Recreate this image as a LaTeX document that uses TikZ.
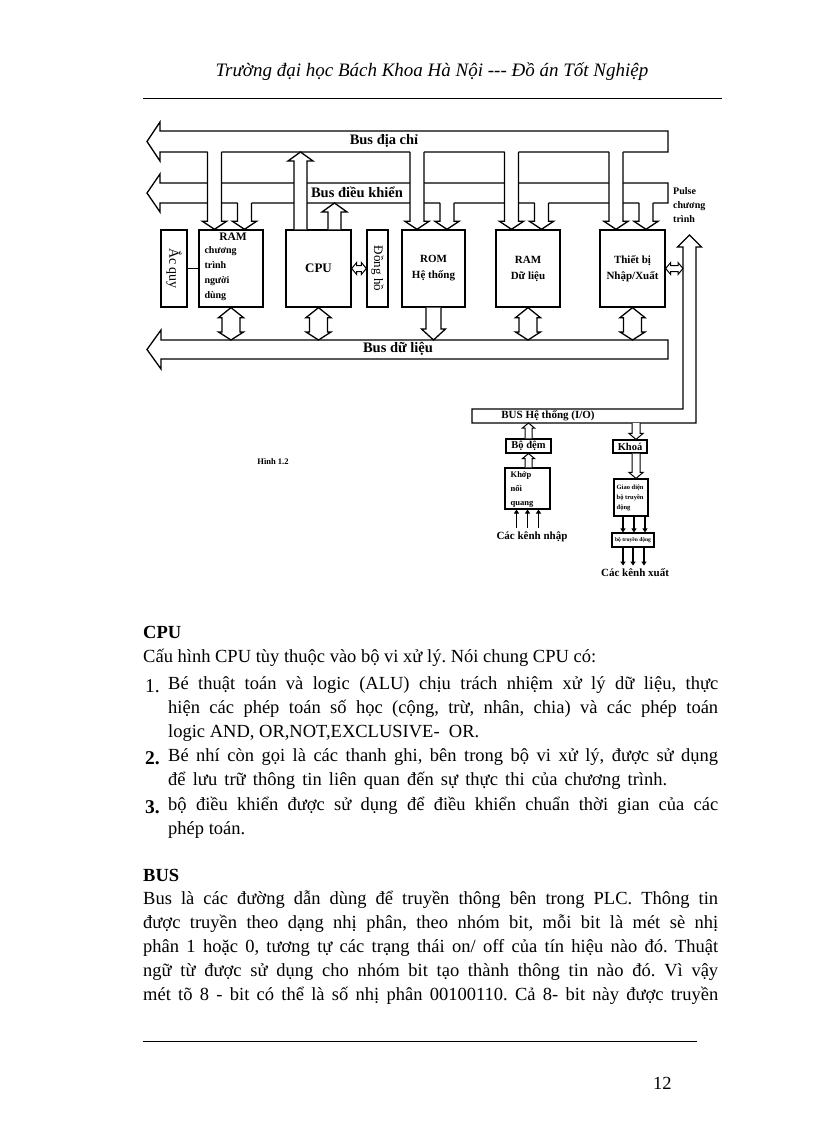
\documentclass[tikz,border=0pt]{standalone}
\usepackage{fontspec}
\setmainfont{Liberation Serif}
\usetikzlibrary{calc,arrows.meta}

\newcommand{\fsz}[2]{\fontsize{#1}{#2}\selectfont}
% hollow arrow leaving a bus downwards into a module (#1 tip, #2 bus edge)
\newcommand{\busdrop}[2]{%
  \fill[white] ($(#1 |- #2)+(-7,-1)$) -- ($(#1)+(-7,-8)$) -- ($(#1)+(-12,-8)$) -- (#1) -- ($(#1)+(12,-8)$) -- ($(#1)+(7,-8)$) -- ($(#1 |- #2)+(7,-1)$) -- cycle;
  \draw[busline] ($(#1 |- #2)+(-7,0)$) -- ($(#1)+(-7,-8)$) -- ($(#1)+(-12,-8)$) -- (#1) -- ($(#1)+(12,-8)$) -- ($(#1)+(7,-8)$) -- ($(#1 |- #2)+(7,0)$);%
}
% hollow arrow from a module up to a bus (#1 foot, #2 bus edge)
\newcommand{\busup}[2]{%
  \fill[white] ($(#1)+(-6.5,0)$) -- ($(#1 |- #2)+(-6.5,9)$) -- ($(#1 |- #2)+(-12.5,9)$) -- (#1 |- #2) -- ($(#1 |- #2)+(12.5,9)$) -- ($(#1 |- #2)+(6.5,9)$) -- ($(#1)+(6.5,0)$) -- cycle;
  \draw[busline] ($(#1)+(-6.5,0)$) -- ($(#1 |- #2)+(-6.5,9)$) -- ($(#1 |- #2)+(-12.5,9)$) -- (#1 |- #2) -- ($(#1 |- #2)+(12.5,9)$) -- ($(#1 |- #2)+(6.5,9)$) -- ($(#1)+(6.5,0)$);%
}
% hollow double arrow, vertical
\newcommand{\vdbl}[2]{%
  \draw[busline,fill=white] (#1) -- ($(#1)+(12.5,10)$) -- ($(#1)+(9,10)$) -- ($(#2)+(9,-8)$) -- ($(#2)+(12.5,-8)$) -- (#2) -- ($(#2)+(-12.5,-8)$) -- ($(#2)+(-9,-8)$) -- ($(#1)+(-9,10)$) -- ($(#1)+(-12.5,10)$) -- cycle;%
}
% hollow single arrow, downwards
\newcommand{\busdown}[2]{%
  \draw[busline,fill=white] ($(#1)+(-7.5,0)$) -- ($(#2)+(-7.5,-11)$) -- ($(#2)+(-12,-11)$) -- (#2) -- ($(#2)+(12,-11)$) -- ($(#2)+(7.5,-11)$) -- ($(#1)+(7.5,0)$);%
}
% hollow double arrow, horizontal
\newcommand{\hdbl}[2]{%
  \draw[thinbus,fill=white] (#1) -- ($(#1)+(5,-6)$) -- ($(#1)+(5,-3)$) -- ($(#2)+(-5,-3)$) -- ($(#2)+(-5,-6)$) -- (#2) -- ($(#2)+(-5,6)$) -- ($(#2)+(-5,3)$) -- ($(#1)+(5,3)$) -- ($(#1)+(5,6)$) -- cycle;%
}
% small hollow arrows of the I/O part
\newcommand{\smallup}[2]{%
  \draw[thinbus,fill=white] ($(#1)+(-3.5,0)$) -- ($(#2)+(-3.5,5)$) -- ($(#2)+(-6,5)$) -- (#2) -- ($(#2)+(6,5)$) -- ($(#2)+(3.5,5)$) -- ($(#1)+(3.5,0)$);%
}
\newcommand{\smalldown}[2]{%
  \draw[thinbus,fill=white] ($(#1)+(-4,0)$) -- ($(#2)+(-4,-6)$) -- ($(#2)+(-7,-6)$) -- (#2) -- ($(#2)+(7,-6)$) -- ($(#2)+(4,-6)$) -- ($(#1)+(4,0)$);%
}

\begin{document}
\begin{tikzpicture}[x=1pt,y=-1pt,
    busline/.style={line width=1.3pt,line join=miter},
    thinbus/.style={line width=1pt,line join=miter},
    modbox/.style={draw,line width=1.3pt,minimum height=77pt,inner sep=0pt},
    iobox/.style={draw,line width=1.1pt,inner sep=0pt},
    lbl/.style={inner sep=0pt,font=\bfseries\fsz{11}{13}},
    buslbl/.style={inner sep=0pt,font=\bfseries\fsz{14.5}{15}},
    chan/.style={line width=1.7pt,-{Triangle[length=4pt,width=5pt]}},
    body/.style={anchor=base west,inner sep=0pt,font=\frenchspacing\fsz{18.5}{21}},
    bodyb/.style={body,font=\bfseries\fsz{18.5}{21}},
]
% page
\fill[white] (0,0) rectangle (816,1123);
\useasboundingbox (0,0) rectangle (816,1123);

% header
\node[anchor=base,inner sep=0pt,font=\itshape\fsz{19}{19}] (head) at (432,77) {Trường đại học Bách Khoa Hà Nội -{}-{}- Đồ án Tốt Nghiệp};
\draw[line width=0.8pt] (143,98) -- (722,98);

% buses
\draw[busline,fill=white] (668,131) -- (160,131) -- (160,122) -- (147,141.5) -- (160,161) -- (160,152) -- (668,152) -- cycle;
\draw[busline,fill=white] (668,183) -- (160,183) -- (160,174) -- (147,193) -- (160,212) -- (160,203) -- (668,203) -- cycle;
\draw[busline,fill=white] (668,340) -- (161,340) -- (161,330) -- (147,349.5) -- (161,369) -- (161,359) -- (668,359) -- cycle;
\coordinate (abus) at (0,152);
\coordinate (cbus) at (0,203);
\coordinate (dbus) at (0,340);

% modules
\node[modbox,minimum width=26pt] (acquy) at (174,268.5) {};
\node[modbox,minimum width=64pt] (ramu) at (231,268.5) {};
\node[modbox,minimum width=65pt,font=\bfseries\fsz{13}{13}] (cpu) at (318.5,268.5) {CPU};
\node[modbox,minimum width=21pt] (dongho) at (377.5,268.5) {};
\node[modbox,minimum width=63pt,align=center,font=\bfseries\fsz{11}{16}] (rom) at (433.5,268.5) {ROM\\Hệ thống};
\node[modbox,minimum width=64pt,align=center,font=\bfseries\fsz{11}{16}] (ramd) at (528,268.5) {RAM\\Dữ liệu};
\node[modbox,minimum width=65pt,align=center,font=\bfseries\fsz{11}{16}] (io) at (632.5,268.5) {Thiết bị\\Nhập/Xuất};
\node[rotate=-90,inner sep=0pt,font=\fsz{14}{14}] (acquyt) at (acquy) {Ắc quy};
\node[rotate=-90,inner sep=0pt,font=\fsz{13}{13}] (donghot) at (dongho) {Đồng hồ};
\node[anchor=north,inner sep=0pt,font=\bfseries\fsz{11.5}{12}] (ramut) at ($(ramu.north)+(2,3)$) {RAM};
\node[anchor=north west,inner sep=0pt,align=left,font=\bfseries\fsz{10}{15}] (ramus) at ($(ramu.north west)+(6,17)$) {chương\\trình\\người\\dùng};

% links to the address and control buses
\foreach \n in {ramu,rom,ramd,io}{
  \coordinate (\n-a) at ($(\n.north)+(-16.5,0)$);
  \coordinate (\n-c) at ($(\n.north)+(13.5,0)$);
  \busdrop{\n-c}{cbus}
  \busdrop{\n-a}{abus}
}
\coordinate (cpu-a) at ($(cpu.north)+(-18,0)$);
\coordinate (cpu-c) at ($(cpu.north)+(16,0)$);
\busup{cpu-a}{abus}
\busup{cpu-c}{cbus}

% links to the data bus
\foreach \n in {ramu,cpu,ramd,io}{
  \vdbl{\n.south}{\n.south |- dbus}
}
\busdown{rom.south}{rom.south |- dbus}

% side links
\draw[busline] (acquy) -- (ramu);
\hdbl{cpu.east}{dongho.west}

% I/O bus
\draw[busline,fill=white] (472,409) -- (683,409) -- (683,247) -- (677.5,247) -- (689.5,235) -- (701.5,247) -- (696,247) -- (696,423) -- (472,423) -- cycle;
\coordinate (iob) at (0,423);
\coordinate (iov) at (683,268.5);
\hdbl{io.east}{iov}

% bus labels
\node[buslbl] (abl) at (384,141) {Bus địa chỉ};
\node[buslbl] (cbl) at (357,192.5) {Bus điều khiển};
\node[buslbl] (dbl) at (398,349) {Bus dữ liệu};
\node[anchor=north west,inner sep=0pt,align=left,font=\bfseries\fsz{10}{14}] (pulse) at (673,187) {Pulse\\chương\\trình};
\node[lbl] (bust) at (548,416) {BUS Hệ thống (I/O)};

% input side
\node[iobox,minimum width=45pt,minimum height=14pt,font=\bfseries\fsz{10.5}{11}] (buf) at (528.5,446) {Bộ đệm};
\node[iobox,minimum width=45pt,minimum height=41pt] (khop) at (527.5,488.5) {};
\node[anchor=north west,inner sep=0pt,align=left,font=\bfseries\fsz{8.5}{14}] (khopt) at ($(khop.north west)+(6,4)$) {Khớp\\nối\\quang};
\smallup{buf.north}{buf.north |- iob}
\smallup{buf.south |- khop.north}{buf.south}
\foreach \dx in {-11,0,11}
  \draw[chan] ($(khop.south)+(\dx,18)$) -- ($(khop.south)+(\dx,0)$);
\node[lbl] (inlbl) at (532,537) {Các kênh nhập};

% output side
\node[iobox,minimum width=34pt,minimum height=13pt,font=\bfseries\fsz{10.5}{11}] (khoa) at (630,446.5) {Khoá};
\node[iobox,minimum width=34pt,minimum height=37pt] (giao) at (631,497.5) {};
\node[anchor=north west,inner sep=0pt,align=left,font=\bfseries\fsz{6.5}{10}] (giaot) at ($(giao.north west)+(3,6)$) {Giao diện\\bộ truyền\\động};
\node[iobox,minimum width=42pt,minimum height=14pt,font=\bfseries\fsz{5.5}{6}] (drv) at (633,540) {bộ truyền động};
\coordinate (khoa-in) at ($(khoa.north)+(6,0)$);
\coordinate (khoa-out) at ($(khoa.south)+(6,0)$);
\smalldown{khoa-in |- iob}{khoa-in}
\smalldown{khoa-out}{khoa-out |- giao.north}
\foreach \dx in {-8,3,14}
  \draw[chan] ($(giao.south)+(\dx,0)$) -- ($(drv.north)+(\dx-2,0)$);
\foreach \dx in {-10,0,11}
  \draw[chan] ($(drv.south)+(\dx,0)$) -- ($(drv.south)+(\dx,18)$);
\node[lbl] (outlbl) at (635,573) {Các kênh xuất};

\node[inner sep=0pt,font=\bfseries\fsz{8.5}{9}] (fig) at (273,462) {Hình 1.2};

% text
\node[bodyb] (cpuh) at (143,638) {CPU};
\node[body] (c0) at (143,662) {Cấu hình CPU tùy thuộc vào bộ vi xử lý. Nói chung CPU có:};
\node[body,font=\fsz{19.5}{21}] (n1) at (145,692) {1.};
\node[body] (c1) at (168,689) {\makebox[550pt][s]{Bé thuật toán và logic (ALU) chịu trách nhiệm xử lý dữ liệu, thực}};
\node[body] (c2) at (168,713) {\makebox[550pt][s]{hiện các phép toán số học (cộng, trừ, nhân, chia) và các phép toán}};
\node[body] (c3) at (168,737) {logic AND, OR,NOT,EXCLUSIVE-\ \ OR.};
\node[bodyb,font=\bfseries\fsz{19.5}{21}] (n2) at (145,764) {2.};
\node[body] (c4) at (168,761) {\makebox[550pt][s]{Bé nhí còn gọi là các thanh ghi, bên trong bộ vi xử lý, được sử dụng}};
\node[body] (c5) at (168,785) {\makebox[499pt][s]{để lưu trữ thông tin liên quan đến sự thực thi của chương trình.}};
\node[bodyb,font=\bfseries\fsz{19.5}{21}] (n3) at (145,813) {3.};
\node[body] (c6) at (168,810) {\makebox[550pt][s]{bộ điều khiển được sử dụng để điều khiển chuẩn thời gian của các}};
\node[body] (c7) at (168,834) {phép toán.};
\node[bodyb] (bush) at (143,881) {BUS};
\node[body] (b1) at (143,904) {\makebox[575pt][s]{Bus là các đường dẫn dùng để truyền thông bên trong PLC. Thông tin}};
\node[body] (b2) at (143,928) {\makebox[575pt][s]{được truyền theo dạng nhị phân, theo nhóm bit, mỗi bit là mét sè nhị}};
\node[body] (b3) at (143,952) {\makebox[575pt][s]{phân 1 hoặc 0, tương tự các trạng thái on/ off của tín hiệu nào đó. Thuật}};
\node[body] (b4) at (143,976) {\makebox[575pt][s]{ngữ từ được sử dụng cho nhóm bit tạo thành thông tin nào đó. Vì vậy}};
\node[body] (b5) at (143,1000) {\makebox[575pt][s]{mét tõ 8 - bit có thể là số nhị phân 00100110. Cả 8- bit này được truyền}};

% footer
\draw[line width=0.8pt] (143,1041) -- (697,1041);
\node[body] (pg) at (653,1089) {12};
\end{tikzpicture}
\end{document}
